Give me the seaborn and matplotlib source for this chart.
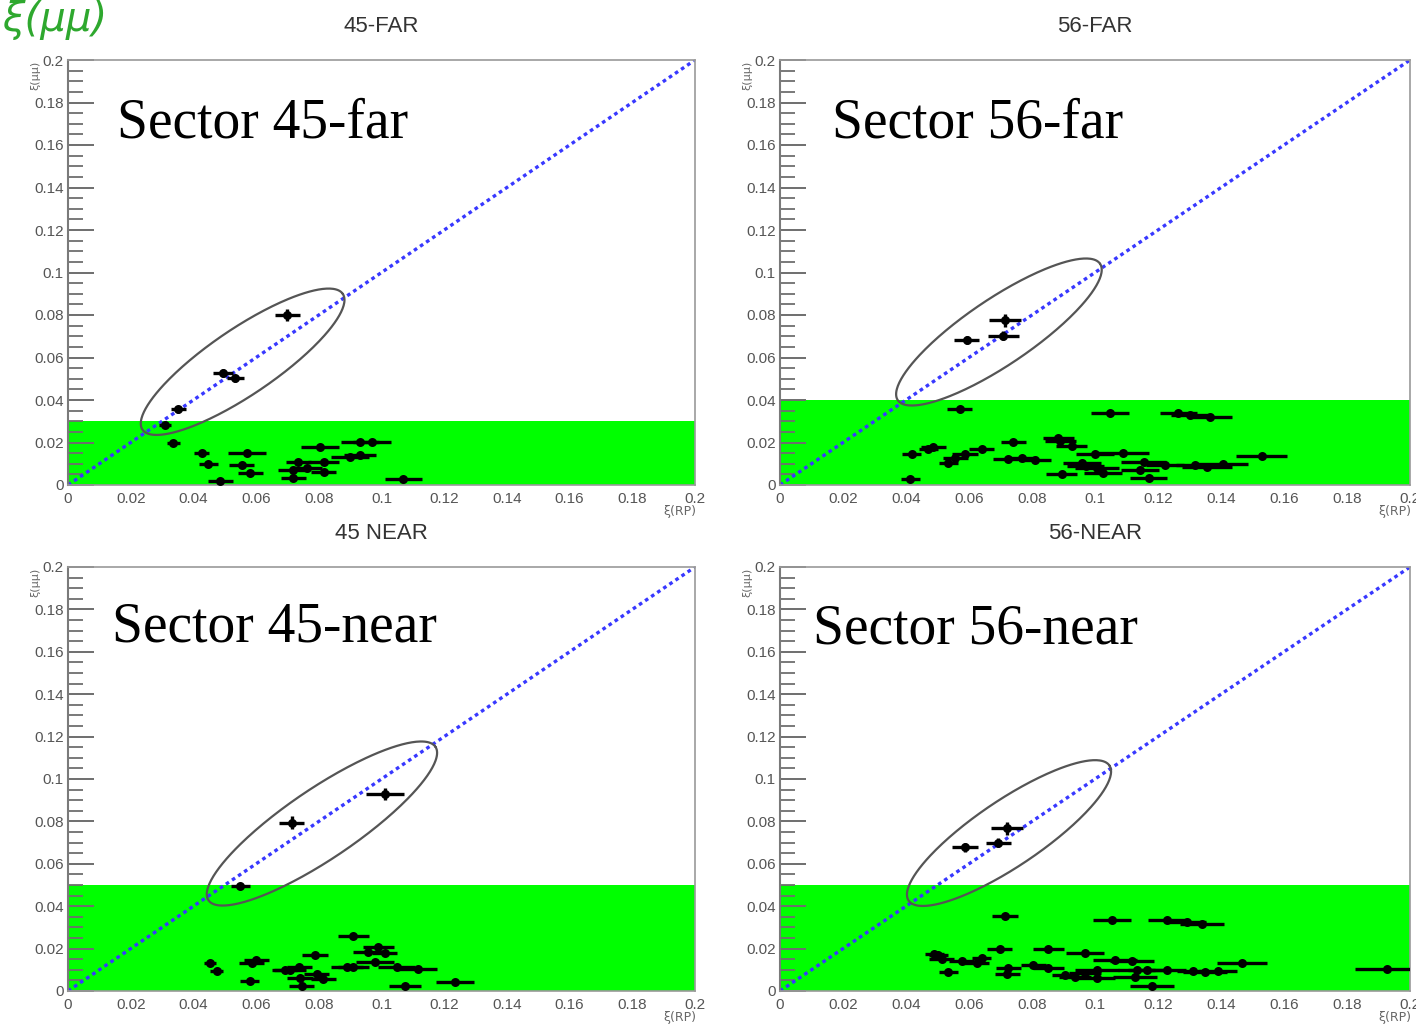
import numpy as np
import pandas as pd
import matplotlib
matplotlib.use("Agg")
import matplotlib.pyplot as plt
from matplotlib.ticker import MultipleLocator, FixedLocator
import seaborn as sns

sns.set_style("white")
plt.rcParams["font.family"] = ["Liberation Sans", "DejaVu Sans"]

# ---------------------------------------------------------------- data
# Sector 45-far
far45_xi_rp = [0.0700, 0.0495, 0.0533, 0.0352, 0.0309,
               0.0336, 0.0426, 0.0448, 0.0485, 0.0570, 0.0554, 0.0581, 0.0719,
               0.0719, 0.0735, 0.0761, 0.0804, 0.0815, 0.0815, 0.0900, 0.0931,
               0.0969, 0.0931, 0.1070]
far45_xi_mm = [0.0800, 0.0526, 0.0502, 0.0356, 0.0282,
               0.0199, 0.0149, 0.0099, 0.0019, 0.0149, 0.0094, 0.0055, 0.0071,
               0.0031, 0.0110, 0.0078, 0.0177, 0.0110, 0.0063, 0.0133, 0.0201,
               0.0204, 0.0141, 0.0030]
far45_xerr = [0.0040, 0.0032, 0.0027, 0.0025, 0.0020,
              0.0020, 0.0025, 0.0030, 0.0040, 0.0060, 0.0040, 0.0040, 0.0050,
              0.0040, 0.0040, 0.0050, 0.0060, 0.0050, 0.0040, 0.0060, 0.0060,
              0.0060, 0.0050, 0.0060]
far45_yerr = [0.0030, 0.0020, 0.0015, 0.0015, 0.0010] + [0.0010] * 19

# Sector 56-far
far56_xi_rp = [0.0593, 0.0714, 0.0709,
               0.0571, 0.0413, 0.0418, 0.0487, 0.0470, 0.0534, 0.0556, 0.0587,
               0.0640, 0.0741, 0.0725, 0.0767, 0.0810, 0.0884, 0.0890, 0.0926,
               0.0894, 0.0958, 0.1000, 0.1048, 0.1265, 0.1302, 0.1365, 0.1529,
               0.1090, 0.1005, 0.1026, 0.1154, 0.1222, 0.1143, 0.1170, 0.1355,
               0.1407, 0.1317, 0.0970]
far56_xi_mm = [0.0682, 0.0775, 0.0703,
               0.0356, 0.0027, 0.0146, 0.0180, 0.0168, 0.0102, 0.0126, 0.0146,
               0.0168, 0.0201, 0.0121, 0.0126, 0.0118, 0.0220, 0.0205, 0.0184,
               0.0052, 0.0102, 0.0146, 0.0337, 0.0337, 0.0330, 0.0321, 0.0136,
               0.0149, 0.0078, 0.0058, 0.0110, 0.0094, 0.0071, 0.0031, 0.0086,
               0.0099, 0.0094, 0.0090]
far56_xerr = [0.0040, 0.0050, 0.0050,
              0.0040, 0.0030, 0.0030, 0.0040, 0.0030, 0.0030, 0.0040, 0.0040,
              0.0040, 0.0040, 0.0050, 0.0050, 0.0050, 0.0050, 0.0050, 0.0050,
              0.0050, 0.0060, 0.0060, 0.0060, 0.0060, 0.0060, 0.0070, 0.0080,
              0.0080, 0.0070, 0.0060, 0.0070, 0.0060, 0.0060, 0.0060, 0.0080,
              0.0080, 0.0060, 0.0060]
far56_yerr = [0.0020, 0.0030, 0.0020] + [0.0010] * 35

# Sector 45-near
near45_xi_rp = [0.1011, 0.0713, 0.0549,
                0.0910, 0.0990, 0.0958, 0.1011, 0.0979, 0.0910, 0.1117, 0.1048,
                0.1234, 0.1075, 0.0788, 0.0453, 0.0474, 0.0586, 0.0600, 0.0580,
                0.0708, 0.0737, 0.0793, 0.0740, 0.0745, 0.0814, 0.0692, 0.0890]
near45_xi_mm = [0.0929, 0.0794, 0.0495,
                0.0259, 0.0209, 0.0185, 0.0178, 0.0138, 0.0115, 0.0104, 0.0115,
                0.0044, 0.0025, 0.0170, 0.0134, 0.0094, 0.0131, 0.0145, 0.0049,
                0.0099, 0.0115, 0.0080, 0.0060, 0.0024, 0.0058, 0.0099, 0.0112]
near45_xerr = [0.0060, 0.0040, 0.0030,
               0.0050, 0.0050, 0.0050, 0.0040, 0.0060, 0.0050, 0.0060, 0.0060,
               0.0060, 0.0050, 0.0040, 0.0020, 0.0020, 0.0040, 0.0040, 0.0030,
               0.0050, 0.0040, 0.0040, 0.0040, 0.0040, 0.0040, 0.0040, 0.0050]
near45_yerr = [0.0030, 0.0030, 0.0010] + [0.0010] * 24

# Sector 56-near
near56_xi_rp = [0.0587, 0.0720, 0.0693,
                0.0714, 0.0698, 0.0852, 0.0503, 0.0490, 0.0513, 0.0534, 0.0577,
                0.0624, 0.0640, 0.0725, 0.0722, 0.0804, 0.0852, 0.0968, 0.0937,
                0.0968, 0.0904, 0.1053, 0.1228, 0.1291, 0.1339, 0.1466, 0.1926,
                0.1349, 0.1310, 0.1390, 0.1063, 0.1117, 0.1005, 0.1005, 0.1164,
                0.1228, 0.1127, 0.1180, 0.1132]
near56_xi_mm = [0.0678, 0.0767, 0.0700,
                0.0354, 0.0197, 0.0200, 0.0170, 0.0175, 0.0150, 0.0091, 0.0143,
                0.0131, 0.0158, 0.0107, 0.0078, 0.0123, 0.0107, 0.0181, 0.0068,
                0.0085, 0.0075, 0.0335, 0.0335, 0.0324, 0.0316, 0.0134, 0.0102,
                0.0091, 0.0094, 0.0094, 0.0146, 0.0143, 0.0099, 0.0060, 0.0099,
                0.0099, 0.0068, 0.0024, 0.0099]
near56_xerr = [0.0040, 0.0050, 0.0040,
               0.0040, 0.0040, 0.0050, 0.0030, 0.0030, 0.0040, 0.0030, 0.0040,
               0.0040, 0.0030, 0.0040, 0.0040, 0.0040, 0.0050, 0.0060, 0.0050,
               0.0050, 0.0040, 0.0060, 0.0060, 0.0060, 0.0070, 0.0080, 0.0100,
               0.0070, 0.0050, 0.0060, 0.0070, 0.0070, 0.0070, 0.0060, 0.0060,
               0.0060, 0.0070, 0.0070, 0.0060]
near56_yerr = [0.0020, 0.0030, 0.0020] + [0.0010] * 36

# Acceptance cut in xi(mu mu) for each sector
cut_45_far, cut_56_far, cut_45_near, cut_56_near = 0.03, 0.04, 0.05, 0.05

titles = ["45-FAR", "56-FAR", "45 NEAR", "56-NEAR"]
sector_labels = ["Sector 45-far", "Sector 56-far", "Sector 45-near", "Sector 56-near"]
tick_values = [0, 0.02, 0.04, 0.06, 0.08, 0.1, 0.12, 0.14, 0.16, 0.18, 0.2]
tick_labels = ["0", "0.02", "0.04", "0.06", "0.08", "0.1", "0.12", "0.14",
               "0.16", "0.18", "0.2"]

# ---------------------------------------------------------------- layout
W, H = 1416, 1031
fig = plt.figure(figsize=(W / 100, H / 100), dpi=100)


def px_axes(left, top, right, bottom):
    return fig.add_axes([left / W, 1 - bottom / H, (right - left) / W, (bottom - top) / H])


def draw_panel(ax, xi_rp, xi_mm, xerr, yerr, cut, title, ellipse):
    lo, hi = tick_values[0], tick_values[-1]
    ax.set_xlim(lo, hi)
    ax.set_ylim(lo, hi)
    ax.set_facecolor("white")

    # accepted region below the cut
    ax.axhspan(lo, cut, color="#00ff00", zorder=0, lw=0)

    # xi(RP) = xi(mu mu)
    ax.plot([lo, hi], [lo, hi], ls=(0, (1.1, 1.1)), color="#3838ff", lw=2.4, zorder=2)

    df = pd.DataFrame({"xi_rp": xi_rp, "xi_mm": xi_mm, "xerr": xerr, "yerr": yerr})
    ax.errorbar(df["xi_rp"], df["xi_mm"], xerr=df["xerr"], yerr=df["yerr"],
                fmt="none", ecolor="black", elinewidth=2.4, capsize=0, zorder=4)
    sns.scatterplot(data=df, x="xi_rp", y="xi_mm", ax=ax, color="black", s=42,
                    linewidth=0, zorder=5, legend=False)

    # matching ellipse, aligned with the diagonal on screen
    fig.canvas.draw()
    bbox = ax.get_window_extent()
    sx = bbox.width / (hi - lo)
    sy = bbox.height / (hi - lo)
    (cx, cy), a, b = ellipse
    ang = np.arctan2(sy, sx)
    t = np.linspace(0, 2 * np.pi, 300)
    dxp = a * np.cos(t) * np.cos(ang) - b * np.sin(t) * np.sin(ang)
    dyp = a * np.cos(t) * np.sin(ang) + b * np.sin(t) * np.cos(ang)
    ax.plot(cx + dxp / sx, cy + dyp / sy, color="#555555", lw=1.6, zorder=6)

    # ROOT-like axes
    for s in ax.spines.values():
        s.set_color("#9a9a9a")
        s.set_linewidth(1.2)
    ax.spines["left"].set_color("#7a7a7a")
    ax.spines["left"].set_linewidth(1.5)
    ax.xaxis.set_major_locator(FixedLocator(tick_values))
    ax.yaxis.set_major_locator(FixedLocator(tick_values))
    ax.set_xticklabels(tick_labels)
    ax.set_yticklabels(tick_labels)
    ax.yaxis.set_minor_locator(MultipleLocator(0.005))
    ax.tick_params(axis="y", which="both", left=True, right=False)
    ax.tick_params(axis="y", which="major", direction="in", length=19, width=1.4,
                   color="#6e6e6e", labelsize=11, labelcolor="#555555", pad=3)
    ax.tick_params(axis="y", which="minor", direction="in", length=11, width=1.3,
                   color="#6e6e6e")
    ax.tick_params(axis="x", which="major", direction="in", length=0,
                   labelsize=11, labelcolor="#555555", pad=5)
    ax.set_xlabel("")
    ax.set_ylabel("")
    ax.set_title(title, fontsize=16, color="#333333", pad=20)


geom = [(68, 60, 695, 485), (780, 60, 1410, 485),
        (68, 567, 695, 991), (780, 567, 1410, 991)]
sets = [
    (far45_xi_rp, far45_xi_mm, far45_xerr, far45_yerr, cut_45_far, ((0.0557, 0.0580), 121, 33)),
    (far56_xi_rp, far56_xi_mm, far56_xerr, far56_yerr, cut_56_far, ((0.0695, 0.0720), 122, 33)),
    (near45_xi_rp, near45_xi_mm, near45_xerr, near45_yerr, cut_45_near, ((0.0810, 0.0790), 137, 35)),
    (near56_xi_rp, near56_xi_mm, near56_xerr, near56_yerr, cut_56_near, ((0.0727, 0.0745), 121, 33)),
]
label_pos = [(117, 123), (832, 123), (112, 628), (813, 630)]

for g, s, title, lab, (lx, ly) in zip(geom, sets, titles, sector_labels, label_pos):
    ax = px_axes(*g)
    draw_panel(ax, *s[:5], title, s[5])
    fig.text(lx / W, 1 - ly / H, lab, family=["Liberation Serif", "DejaVu Serif"],
             fontsize=40, color="black", ha="left", va="center")
    # axis titles in ROOT corners
    fig.text((g[0] - 33) / W, 1 - (g[1] + 15) / H, "ξ(μμ)", rotation=90, fontsize=8,
             color="#666666", ha="center", va="center", family=["DejaVu Sans"])
    fig.text((g[2] - 15) / W, 1 - (g[3] + 26) / H, "ξ(RP)", fontsize=9,
             color="#666666", ha="center", va="center", family=["DejaVu Sans"])

# green header label
fig.text(2 / W, 1 - 20 / H, "ξ(μμ)", fontsize=29, color="#2ea82e", style="italic",
         ha="left", va="center", family=["DejaVu Sans"])

fig.savefig("out.png", dpi=100)
